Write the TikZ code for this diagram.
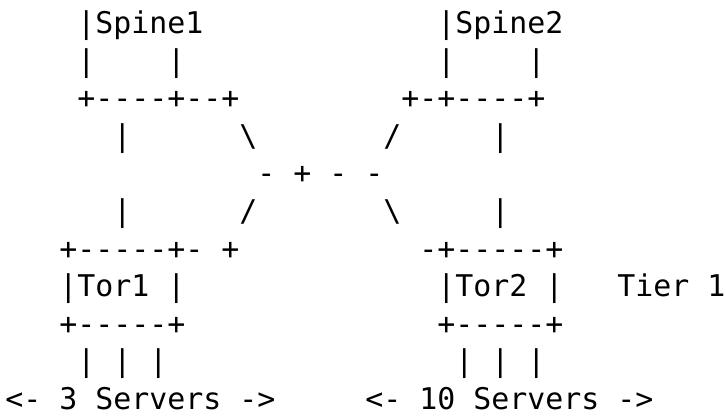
\documentclass[tikz,border=0pt]{standalone}
\usepackage{fontspec}
\setmonofont{DejaVu Sans Mono}
\tikzset{
  asc/.style={font=\ttfamily\fontsize{29.9pt}{36pt}\selectfont, inner sep=0pt, outer sep=0pt, anchor=base west, text=black},
}
\begin{document}
\begin{tikzpicture}[x=18pt, y=-37.6pt]
\useasboundingbox[fill=white] (-5.3pt,33.5pt) rectangle (720.7pt,-384.5pt);
% row 0
\node[asc] (sp1)  at (4,0)  {|Spine1};
\node[asc] (sp2)  at (24,0) {|Spine2};
% row 1
\node[asc] (sp1a) at (4,1)  {|};
\node[asc] (sp1b) at (9,1)  {|};
\node[asc] (sp2a) at (24,1) {|};
\node[asc] (sp2b) at (29,1) {|};
% row 2
\node[asc] (sp1c) at (4,2)  {+----+--+};
\node[asc] (sp2c) at (22,2) {+-+----+};
% row 3
\node[asc] (l3a)  at (6,3)  {|};
\node[asc] (l3b)  at (13,3) {\textbackslash};
\node[asc] (l3c)  at (21,3) {/};
\node[asc] (l3d)  at (27,3) {|};
% row 4
\node[asc] (x1)   at (14,4) {-};
\node[asc] (x2)   at (16,4) {+};
\node[asc] (x3)   at (18,4) {-};
\node[asc] (x4)   at (20,4) {-};
% row 5
\node[asc] (l5a)  at (6,5)  {|};
\node[asc] (l5b)  at (13,5) {/};
\node[asc] (l5c)  at (21,5) {\textbackslash};
\node[asc] (l5d)  at (27,5) {|};
% row 6
\node[asc] (t1a)  at (3,6)  {+-----+-};
\node[asc] (t1p)  at (12,6) {+};
\node[asc] (t2a)  at (23,6) {-+-----+};
% row 7
\node[asc] (t1)   at (3,7)  {|Tor1};
\node[asc] (t1r)  at (9,7)  {|};
\node[asc] (t2)   at (24,7) {|Tor2};
\node[asc] (t2r)  at (30,7) {|};
\node[asc] (tier) at (34,7) {Tier 1};
% row 8
\node[asc] (t1b)  at (3,8)  {+-----+};
\node[asc] (t2b)  at (24,8) {+-----+};
% row 9
\node[asc] (s1a)  at (4,9)  {|};
\node[asc] (s1b)  at (6,9)  {|};
\node[asc] (s1c)  at (8,9)  {|};
\node[asc] (s2a)  at (25,9) {|};
\node[asc] (s2b)  at (27,9) {|};
\node[asc] (s2c)  at (29,9) {|};
% row 10
\node[asc] (srv1) at (0,10)  {<- 3 Servers ->};
\node[asc] (srv2) at (20,10) {<- 10 Servers ->};
\end{tikzpicture}
\end{document}
